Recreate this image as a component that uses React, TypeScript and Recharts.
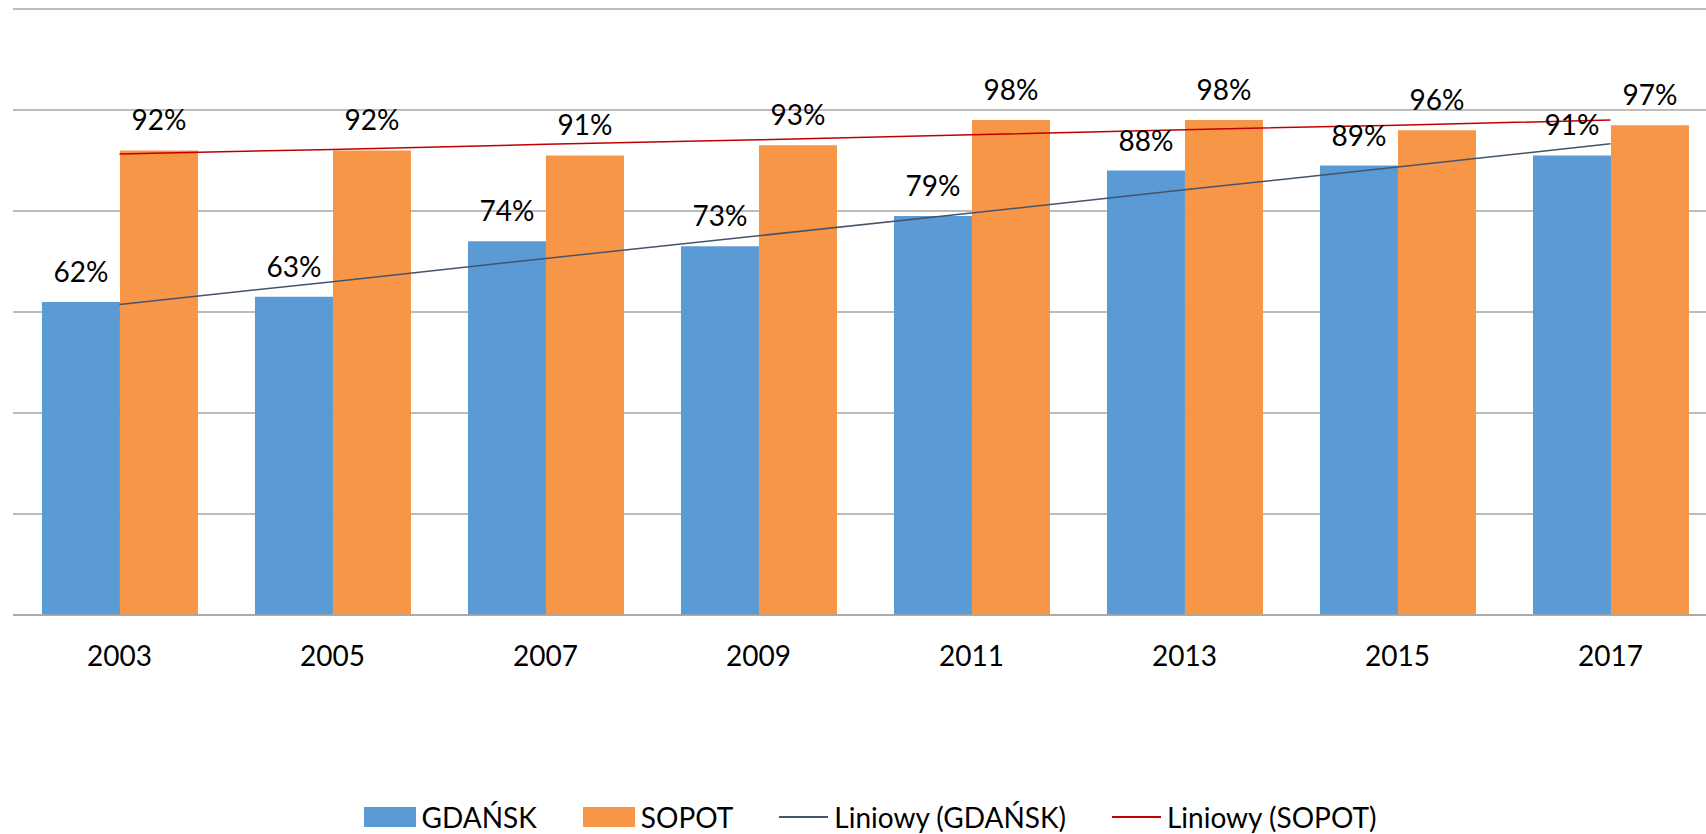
import React from 'react';
import { ComposedChart, Bar, Line, XAxis, YAxis, CartesianGrid, LabelList, Legend } from 'recharts';

const years = ['2003', '2005', '2007', '2009', '2011', '2013', '2015', '2017'];
const gdansk = [62, 63, 74, 73, 79, 88, 89, 91];
const sopot = [92, 92, 91, 93, 98, 98, 96, 97];
const gdanskTrend = [61.5, 66.0, 70.6, 75.1, 79.6, 84.2, 88.7, 93.3];
const sopotTrend = [91.3, 92.2, 93.2, 94.1, 95.1, 96.1, 97.0, 98.0];
const yTicks = [0, 20, 40, 60, 80, 100, 120];

const seriesNames = ['GDAŃSK', 'SOPOT', 'Liniowy (GDAŃSK)', 'Liniowy (SOPOT)'];
const colors = { gdansk: '#5B9BD5', sopot: '#F79646', gTrend: '#44546A', sTrend: '#C00000' };

const data = years.map((y, i) => ({
  year: y,
  gdansk: gdansk[i],
  sopot: sopot[i],
  gTrend: gdanskTrend[i],
  sTrend: sopotTrend[i],
}));

const FONT = 'Lato, "Open Sans", sans-serif';

const legendItems = [
  { name: seriesNames[0], color: colors.gdansk, kind: 'rect' },
  { name: seriesNames[1], color: colors.sopot, kind: 'rect' },
  { name: seriesNames[2], color: colors.gTrend, kind: 'line' },
  { name: seriesNames[3], color: colors.sTrend, kind: 'line' },
];

const renderLegend = () => (
  <div style={{ display: 'flex', justifyContent: 'center', alignItems: 'center', gap: 46, fontFamily: FONT, fontSize: 28, color: '#000', height: 28 }}>
    {legendItems.map((it) => (
      <div key={it.name} style={{ display: 'flex', alignItems: 'center', gap: 6 }}>
        {it.kind === 'rect' ? (
          <div style={{ width: 52, height: 20, background: it.color }} />
        ) : (
          <div style={{ width: 49, height: 2, background: it.color }} />
        )}
        <span style={{ lineHeight: '28px', whiteSpace: 'nowrap' }}>{it.name}</span>
      </div>
    ))}
  </div>
);

export default function App() {
  return (
    <div style={{ position: 'absolute', left: 0, top: 0, width: 1706, height: 834, overflow: 'hidden', background: '#fff' }}>
      <ComposedChart
        width={1730}
        height={834}
        data={data}
        margin={{ top: 9, right: 13, left: 13, bottom: 0 }}
        barCategoryGap="13.6%"
        barGap={0}
      >
        <CartesianGrid vertical={false} stroke="#A6A6A6" strokeWidth={1.5} />
        <XAxis
          dataKey="year"
          height={219}
          axisLine={{ stroke: '#A6A6A6', strokeWidth: 1.5 }}
          tickLine={false}
          tickSize={0}
          tickMargin={31}
          tick={{ fill: '#000', fontSize: 28, fontFamily: FONT }}
          interval={0}
        />
        <YAxis hide domain={[0, 120]} ticks={yTicks} width={0} />
        <Bar dataKey="gdansk" name={seriesNames[0]} fill={colors.gdansk} isAnimationActive={false}>
          <LabelList dataKey="gdansk" position="top" offset={20} formatter={(v: number) => `${v}%`} style={{ fill: '#000', fontSize: 28, fontFamily: FONT }} />
        </Bar>
        <Bar dataKey="sopot" name={seriesNames[1]} fill={colors.sopot} isAnimationActive={false}>
          <LabelList dataKey="sopot" position="top" offset={20} formatter={(v: number) => `${v}%`} style={{ fill: '#000', fontSize: 28, fontFamily: FONT }} />
        </Bar>
        <Line dataKey="gTrend" name={seriesNames[2]} type="linear" stroke={colors.gTrend} strokeWidth={1.5} dot={false} activeDot={false} isAnimationActive={false} />
        <Line dataKey="sTrend" name={seriesNames[3]} type="linear" stroke={colors.sTrend} strokeWidth={1.5} dot={false} activeDot={false} isAnimationActive={false} />
        <Legend
          layout="horizontal"
          verticalAlign="middle"
          align="center"
          content={renderLegend}
          wrapperStyle={{ top: 803, left: 0, width: 1740, height: 28 }}
        />
      </ComposedChart>
    </div>
  );
}
